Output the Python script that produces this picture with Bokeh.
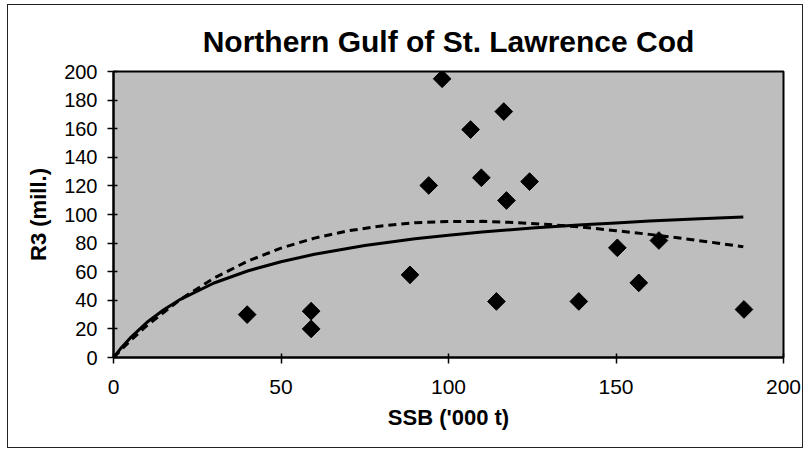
from bokeh.plotting import figure
from bokeh.models import Range1d, FixedTicker
from bokeh.embed import file_html
from bokeh.resources import INLINE
import math

# Observed stock-recruit points
ssb = [39.9, 59.0, 59.0, 88.5, 94.1, 98.1, 106.6, 109.8, 114.3, 116.5, 117.3, 124.2, 138.9, 150.4, 156.8, 162.8, 188.2]
r3 = [30.0, 32.4, 20.0, 57.8, 120.3, 194.9, 159.4, 125.7, 39.2, 172.0, 109.8, 123.0, 39.2, 76.7, 52.2, 81.8, 33.6]

# Solid fitted curve
solid_x = [0, 2, 5, 10, 15, 20, 30, 40, 50, 60, 75, 90, 100, 110, 125, 140, 150, 160, 175, 188]
solid_y = [0, 5.9, 13.7, 24.6, 33.4, 40.7, 52.1, 60.5, 67.0, 72.2, 78.3, 83.0, 85.5, 87.7, 90.5, 92.8, 94.1, 95.4, 97.0, 98.2]

# Dashed fitted curve
dash_x = [0, 5, 10, 20, 30, 40, 50, 60, 70, 80, 90, 100, 110, 120, 130, 140, 150, 160, 170, 180, 188]
dash_y = [0, 11.7, 22.4, 40.7, 55.5, 67.3, 76.5, 83.5, 88.6, 92.0, 94.2, 95.1, 95.2, 94.4, 93.0, 91.1, 88.7, 86.1, 83.2, 80.1, 77.5]

x_ticks = [0, 50, 100, 150, 200]
y_ticks = [0, 20, 40, 60, 80, 100, 120, 140, 160, 180, 200]

FONT = "Liberation Sans"

p = figure(width=796, height=444, x_range=Range1d(0, 200), y_range=Range1d(0, 200),
           output_backend="svg", toolbar_location=None,
           min_border_left=105, min_border_right=21, min_border_top=66, min_border_bottom=92)
p.styles = {"border": "1px solid #222", "margin-left": "7px", "margin-top": "4px"}

p.title.text = "Northern Gulf of St. Lawrence Cod"
p.title.align = "center"
p.title.text_font = FONT
p.title.text_font_size = "30px"
p.title.text_font_style = "bold"
p.title.text_color = "black"
p.title.standoff = 27

p.background_fill_color = "#bebebe"
p.border_fill_color = "white"
p.outline_line_color = "black"
p.outline_line_width = 2
p.xgrid.visible = False
p.ygrid.visible = False

for ax in (p.xaxis[0], p.yaxis[0]):
    ax.axis_line_width = 2
    ax.axis_line_color = "black"
    ax.major_tick_line_color = "black"
    ax.major_tick_line_width = 1.5
    ax.major_tick_in = 4
    ax.major_tick_out = 6
    ax.minor_tick_line_color = None
    ax.major_label_text_font = FONT
    ax.major_label_text_color = "black"
    ax.axis_label_text_font = FONT
    ax.axis_label_text_font_style = "bold"
    ax.axis_label_text_color = "black"
    ax.axis_label_text_font_size = "22px"

p.xaxis.ticker = FixedTicker(ticks=x_ticks)
p.yaxis.ticker = FixedTicker(ticks=y_ticks)
p.xaxis.major_label_text_font_size = "21px"
p.yaxis.major_label_text_font_size = "20px"
p.xaxis.major_label_standoff = 16
p.yaxis.major_label_standoff = 10
p.xaxis.axis_label = "SSB ('000 t)"
p.yaxis.axis_label = "R3 (mill.)"
p.xaxis.axis_label_standoff = 8
p.yaxis.axis_label_standoff = 10

p.line(solid_x, solid_y, line_color="black", line_width=3)
p.line(dash_x, dash_y, line_color="black", line_width=3, line_dash="8 5")
p.scatter(ssb, r3, marker="square", size=12.5, angle=math.pi / 4,
          fill_color="black", line_color="black")

open("out.html", "w").write(file_html(p, INLINE))
